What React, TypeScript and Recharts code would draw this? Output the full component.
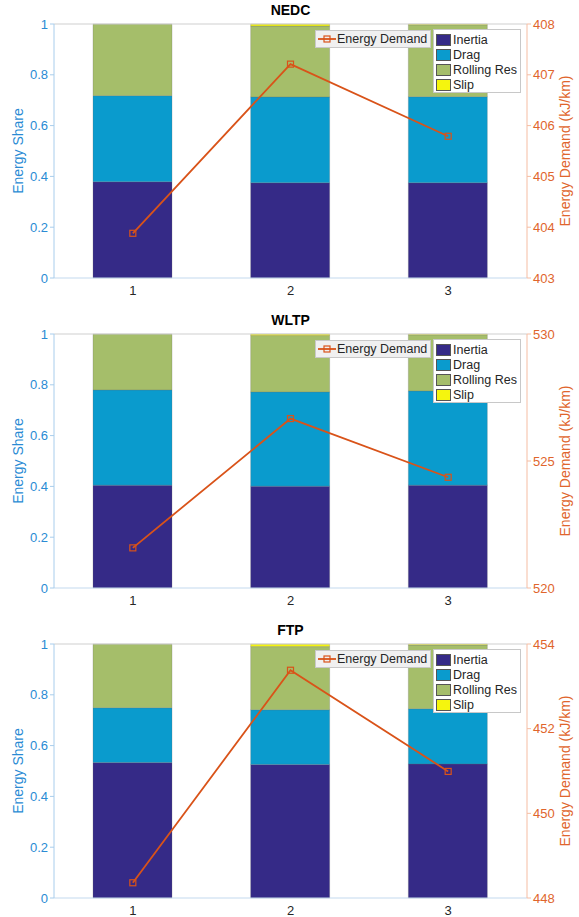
import { ComposedChart, Bar, Line, XAxis, YAxis, ReferenceLine } from 'recharts'

const cycles = ['1', '2', '3']

const nedcInertia = [0.379, 0.375, 0.375]
const nedcDrag = [0.339, 0.338, 0.339]
const nedcRolling = [0.282, 0.279, 0.283]
const nedcSlip = [0, 0.008, 0.003]
const nedcDemand = [403.88, 407.21, 405.79]

const wltpInertia = [0.405, 0.401, 0.405]
const wltpDrag = [0.375, 0.371, 0.371]
const wltpRolling = [0.22, 0.222, 0.221]
const wltpSlip = [0, 0.006, 0.003]
const wltpDemand = [521.58, 526.67, 524.36]

const ftpInertia = [0.533, 0.526, 0.528]
const ftpDrag = [0.216, 0.215, 0.217]
const ftpRolling = [0.251, 0.249, 0.251]
const ftpSlip = [0, 0.01, 0.004]
const ftpDemand = [448.36, 453.38, 450.99]

const shareTicks = [0, 0.2, 0.4, 0.6, 0.8, 1]
const nedcTicks = [403, 404, 405, 406, 407, 408]
const wltpTicks = [520, 525, 530]
const ftpTicks = [448, 450, 452, 454]

const seriesNames = ['Inertia', 'Drag', 'Rolling Res', 'Slip']
const seriesKeys = ['inertia', 'drag', 'rolling', 'slip']
const seriesColors = ['#352a87', '#0a9bcd', '#a5be6a', '#f5f50e']

const FONT = '"Liberation Sans", Arial, Helvetica, sans-serif'
const LEFT_COLOR = '#2a8bd4'
const RIGHT_COLOR = '#e0652c'
const LINE_COLOR = '#d95319'

const buildRows = (inertia: number[], drag: number[], rolling: number[], slip: number[], demand: number[]) =>
   cycles.map((c, i) => ({
      cycle: c,
      inertia: inertia[i],
      drag: drag[i],
      rolling: rolling[i],
      slip: slip[i],
      demand: demand[i],
   }))

const SquareDot = (props: any) => {
   const { cx, cy, index } = props
   if (cx == null || cy == null) return null
   return <rect key={index} x={cx - 3} y={cy - 3} width={6} height={6} fill="none" stroke={LINE_COLOR} strokeWidth={1.2} />
}

type PanelProps = {
   title: string
   rows: any[]
   rightDomain: [number, number]
   rightTicks: number[]
   top: number
}

const Panel = ({ title, rows, rightDomain, rightTicks, top }: PanelProps) => {
   return (
      <div style={{ position: 'absolute', left: 0, top, width: 579, height: 310 }}>
         <ComposedChart width={579} height={310} data={rows} margin={{ top: 24, right: 0, bottom: 0, left: 0 }}>
            <XAxis
               dataKey='cycle'
               height={32}
               stroke='#c3d9ee'
               tickLine={false}
               tick={{ fill: '#262626', fontSize: 13, fontFamily: FONT }}
            />
            <YAxis
               yAxisId='left'
               width={54}
               domain={[0, 1]}
               ticks={shareTicks}
               stroke='#a8cdec'
               tickSize={4}
               tick={{ fill: LEFT_COLOR, fontSize: 13, fontFamily: FONT }}
            />
            <YAxis
               yAxisId='right'
               orientation='right'
               width={52}
               domain={rightDomain}
               ticks={rightTicks}
               stroke='#f5bda3'
               tickSize={4}
               tick={{ fill: RIGHT_COLOR, fontSize: 13, fontFamily: FONT }}
            />
            {seriesKeys.map((k, i) => (
               <Bar
                  key={k}
                  yAxisId='left'
                  dataKey={k}
                  name={seriesNames[i]}
                  stackId='share'
                  fill={seriesColors[i]}
                  stroke='#6a6a6a'
                  strokeWidth={0.5}
                  strokeOpacity={0.5}
                  barSize={79}
                  isAnimationActive={false}
               />
            ))}
            <ReferenceLine yAxisId='left' y={1} stroke='#cfcfcf' />
            <Line
               yAxisId='right'
               dataKey='demand'
               name='Energy Demand'
               stroke={LINE_COLOR}
               strokeWidth={1.8}
               dot={<SquareDot />}
               activeDot={false}
               isAnimationActive={false}
            />
         </ComposedChart>

         <div style={{ position: 'absolute', left: 0, width: 581, top: 2, textAlign: 'center', fontFamily: FONT, fontWeight: 'bold', fontSize: 14, color: '#000' }}>
            {title}
         </div>
         <svg style={{ position: 'absolute', left: 0, top: 0, overflow: 'visible' }} width={579} height={310}>
            <text x={18} y={151} transform='rotate(-90, 18, 151)' textAnchor='middle' dominantBaseline='central' fill={LEFT_COLOR} fontSize={14} fontFamily={FONT}>
               Energy Share
            </text>
            <text x={565} y={151} transform='rotate(-90, 565, 151)' textAnchor='middle' dominantBaseline='central' fill={RIGHT_COLOR} fontSize={14} fontFamily={FONT}>
               Energy Demand (kJ/km)
            </text>
         </svg>

         <div style={{ position: 'absolute', left: 315, top: 30, width: 116, height: 18, boxSizing: 'border-box', background: '#f0f0f0', border: '1px solid #c8c8c8', display: 'flex', alignItems: 'center', whiteSpace: 'nowrap', fontFamily: FONT, fontSize: 12.5, color: '#262626' }}>
            <svg width={18} height={10} style={{ marginLeft: 2, marginRight: 1, flexShrink: 0 }}>
               <line x1={0} y1={5} x2={18} y2={5} stroke={LINE_COLOR} strokeWidth={1.8} />
               <rect x={6} y={2} width={6} height={6} fill='none' stroke={LINE_COLOR} strokeWidth={1.2} />
            </svg>
            Energy Demand
         </div>
         <div style={{ position: 'absolute', left: 433, top: 29, width: 88, height: 64, boxSizing: 'border-box', background: '#fff', border: '1px solid #c8c8c8', whiteSpace: 'nowrap', fontFamily: FONT, fontSize: 12.5, color: '#262626', paddingTop: 2 }}>
            {seriesNames.map((n, i) => (
               <div key={n} style={{ display: 'flex', alignItems: 'center', height: 15 }}>
                  <div style={{ width: 15, height: 12, marginLeft: 2, marginRight: 2, flexShrink: 0, background: seriesColors[i], border: '1px solid #555', boxSizing: 'border-box' }} />
                  {n}
               </div>
            ))}
         </div>
      </div>
   )
}

export default function App() {
   return (
      <div style={{ position: 'absolute', left: 0, top: 0, width: 579, height: 917, background: '#fff' }}>
         <Panel title='NEDC' rows={buildRows(nedcInertia, nedcDrag, nedcRolling, nedcSlip, nedcDemand)} rightDomain={[403, 408]} rightTicks={nedcTicks} top={0} />
         <Panel title='WLTP' rows={buildRows(wltpInertia, wltpDrag, wltpRolling, wltpSlip, wltpDemand)} rightDomain={[520, 530]} rightTicks={wltpTicks} top={310} />
         <Panel title='FTP' rows={buildRows(ftpInertia, ftpDrag, ftpRolling, ftpSlip, ftpDemand)} rightDomain={[448, 454]} rightTicks={ftpTicks} top={620} />
      </div>
   )
}
